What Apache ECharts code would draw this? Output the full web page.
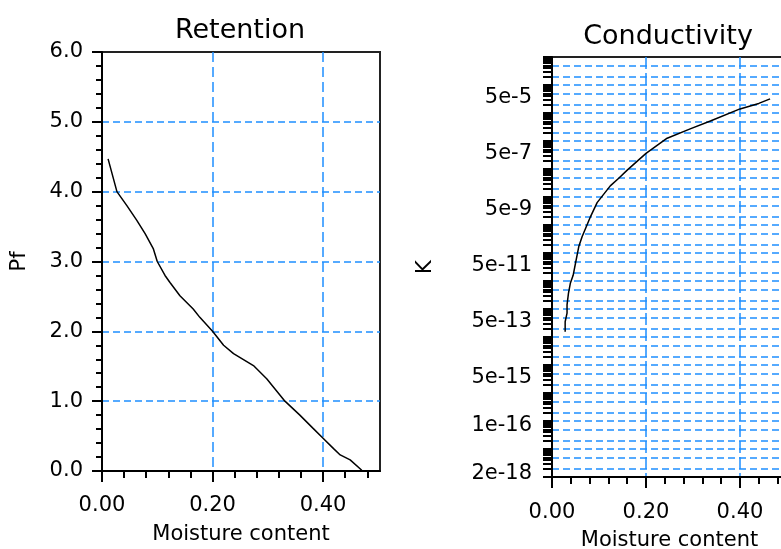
<!DOCTYPE html>
<html><head><meta charset="utf-8">
<script src="https://cdn.jsdelivr.net/npm/echarts@6/dist/echarts.min.js"></script>
<style>html,body{margin:0;padding:0;background:#fff}#c{width:781px;height:549px}</style>
</head><body><div id="c"></div>
<script>
// ---- data ----
const retentionTheta = [0.011, 0.027, 0.045, 0.063, 0.078, 0.093, 0.100, 0.114, 0.123, 0.141, 0.165, 0.177, 0.200, 0.220, 0.238, 0.274, 0.298, 0.331, 0.358, 0.382, 0.400, 0.419, 0.431, 0.449, 0.470];
const retentionPf    = [4.47, 4.00, 3.80, 3.59, 3.40, 3.18, 3.00, 2.80, 2.70, 2.51, 2.32, 2.20, 2.00, 1.80, 1.68, 1.51, 1.32, 1.00, 0.80, 0.61, 0.47, 0.32, 0.23, 0.16, 0.01];

const conductivityTheta = [0.028, 0.028, 0.032, 0.032, 0.035, 0.039, 0.045, 0.050, 0.057, 0.064, 0.082, 0.096, 0.124, 0.142, 0.160, 0.200, 0.245, 0.294, 0.337, 0.400, 0.440, 0.464];
const conductivityK     = [1.55e-13, 3.5e-13, 7.1e-13, 1.4e-12, 3.6e-12, 8.3e-12, 1.6e-11, 4.3e-11, 1.7e-10, 3.8e-10, 2.0e-9, 6.3e-9, 2.5e-8, 4.7e-8, 9.1e-8, 3.6e-7, 1.26e-6, 2.7e-6, 5.2e-6, 1.4e-5, 2.2e-5, 3.2e-5];

const moistureTicks = [0, 0.2, 0.4];
const pfTicks = [0, 1, 2, 3, 4, 5, 6];
const kTickLabels = ['5e-5', '5e-7', '5e-9', '5e-11', '5e-13', '5e-15', '1e-16', '2e-18'];
const kRange = [1e-18, 1e-3];

// ---- helpers ----
const lg = v => Math.log10(v);
const kMinLog = lg(kRange[0]), kMaxLog = lg(kRange[1]);
const logMinorTicks = [], logGrid = [];
for (let n = Math.round(kMinLog); n <= Math.round(kMaxLog); n++) {
  for (let k = 1; k <= 9; k++) {
    const v = n + Math.log10(k);
    if (v >= kMinLog - 1e-9 && v <= kMaxLog + 1e-9) logMinorTicks.push(v);
    if ((k === 1 || k === 2 || k === 5) && v > kMinLog + 1e-9 && v < kMaxLog - 1e-9) logGrid.push(v);
  }
}
const kLabelVals = kTickLabels.map(s => lg(Number(s)));

const FONT = 'DejaVu Sans';
const BLUE = '#1e8fff';
const FS = 21;
const labelStyle = { color: '#000', fontFamily: FONT, fontSize: FS };
const nameStyle = { color: '#000', fontFamily: FONT, fontSize: FS };

const chart = echarts.init(document.getElementById('c'), null, { renderer: 'canvas' });
chart.setOption({
  animation: false,
  backgroundColor: '#fff',
  title: [
    { text: 'Retention', left: 240, top: 17, textAlign: 'center', padding: 0,
      textStyle: { fontFamily: FONT, fontSize: 27, fontWeight: 'normal', color: '#000' } },
    { text: 'Conductivity', left: 668, top: 23, textAlign: 'center', padding: 0,
      textStyle: { fontFamily: FONT, fontSize: 27, fontWeight: 'normal', color: '#000' } }
  ],
  grid: [
    { left: 102, top: 52, width: 278, height: 419, show: true, borderColor: '#222', borderWidth: 2,
      containLabel: false, outerBoundsMode: 'none' },
    { left: 552, top: 57, width: 235, height: 420, show: true, borderColor: '#222', borderWidth: 2,
      containLabel: false, outerBoundsMode: 'none' }
  ],
  xAxis: [
    { type: 'value', gridIndex: 0, min: 0, max: 0.503, interval: 0.2,
      name: 'Moisture content', nameLocation: 'middle', nameGap: 53,
      nameTextStyle: nameStyle,
      axisLine: { show: true, onZero: false, lineStyle: { color: '#000', width: 2 } },
      axisTick: { show: true, inside: false, length: 11, customValues: moistureTicks, lineStyle: { color: '#000', width: 2 } },
      minorTick: { show: true, splitNumber: 5, length: 7, lineStyle: { color: '#000', width: 2 } },
      axisLabel: { ...labelStyle, margin: 24, customValues: moistureTicks, formatter: v => v.toFixed(2) },
      splitLine: { show: true, showMinLine: false, lineStyle: { color: BLUE, type: [10, 5], width: 1.5 } } },
    { type: 'value', gridIndex: 1, min: 0, max: 0.5, interval: 0.2,
      name: 'Moisture content', nameLocation: 'middle', nameGap: 53,
      nameTextStyle: nameStyle,
      axisLine: { show: true, onZero: false, lineStyle: { color: '#000', width: 2 } },
      axisTick: { show: true, inside: false, length: 11, customValues: moistureTicks, lineStyle: { color: '#000', width: 2 } },
      minorTick: { show: true, splitNumber: 5, length: 7, lineStyle: { color: '#000', width: 2 } },
      axisLabel: { ...labelStyle, margin: 25, customValues: moistureTicks, formatter: v => v.toFixed(2) },
      splitLine: { show: true, showMinLine: false, lineStyle: { color: BLUE, type: [12, 4], width: 1.5 } } }
  ],
  yAxis: [
    { type: 'value', gridIndex: 0, min: 0, max: 6, interval: 1,
      name: 'Pf', nameLocation: 'middle', nameGap: 72,
      nameTextStyle: nameStyle,
      axisLine: { show: true, onZero: false, lineStyle: { color: '#000', width: 2 } },
      axisTick: { show: true, inside: false, length: 10, lineStyle: { color: '#000', width: 2 } },
      minorTick: { show: true, splitNumber: 5, length: 6, lineStyle: { color: '#000', width: 2 } },
      axisLabel: { ...labelStyle, margin: 19, formatter: v => v.toFixed(1) },
      splitLine: { show: true, showMinLine: false, showMaxLine: false, lineStyle: { color: BLUE, type: [7, 4], width: 1.5 } } },
    { type: 'value', gridIndex: 1, min: kMinLog, max: kMaxLog, interval: 1, position: 'left',
      name: 'K', nameLocation: 'middle', nameGap: 116,
      nameTextStyle: nameStyle,
      axisLine: { show: true, onZero: false, lineStyle: { color: '#000', width: 2 } },
      axisTick: { show: true, inside: false, length: 9, customValues: logMinorTicks, lineStyle: { color: '#000', width: 2 } },
      axisLabel: { color: '#000', margin: 20, customValues: kLabelVals,
        rich: { k: { color: '#000', fontFamily: FONT, fontSize: FS, padding: [9, 0, 0, 0] } },
        formatter: v => { let best = 0; kLabelVals.forEach((c, i) => { if (Math.abs(c - v) < Math.abs(kLabelVals[best] - v)) best = i; }); return '{k|' + kTickLabels[best] + '}'; } },
      splitLine: { show: false } },
    { type: 'value', gridIndex: 1, min: kMinLog, max: kMaxLog, interval: 1, position: 'left',
      axisLine: { show: false }, axisLabel: { show: false },
      axisTick: { show: false, customValues: logGrid },
      splitLine: { show: true, lineStyle: { color: BLUE, type: [7, 4], width: 1.5 } } }
  ],
  series: [
    { type: 'line', xAxisIndex: 0, yAxisIndex: 0, showSymbol: false, symbol: 'none',
      lineStyle: { color: '#000', width: 1.5 },
      data: retentionTheta.map((t, i) => [t, retentionPf[i]]) },
    { type: 'line', xAxisIndex: 1, yAxisIndex: 1, showSymbol: false, symbol: 'none',
      lineStyle: { color: '#000', width: 1.5 },
      data: conductivityTheta.map((t, i) => [t, lg(conductivityK[i])]) }
  ]
});
</script></body></html>
